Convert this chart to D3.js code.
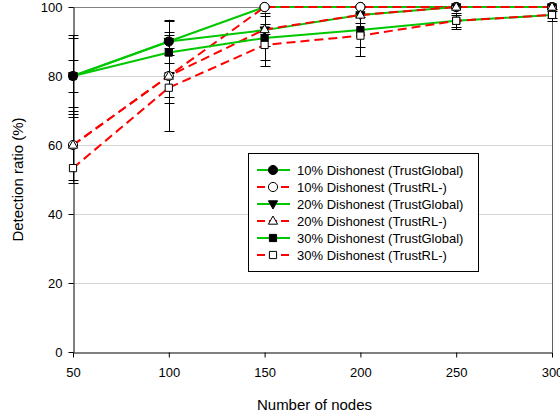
<!DOCTYPE html>
<html>
<head>
<meta charset="utf-8">
<script src="https://cdn.jsdelivr.net/npm/d3@7/dist/d3.min.js"></script>
<style>
  html, body { margin: 0; padding: 0; background: #fff; }
  svg { display: block; }
  text { font-family: Arial, "Liberation Sans", sans-serif; fill: #000; }
</style>
</head>
<body>
<svg id="chart" width="560" height="418"></svg>
<script>
// Number of nodes in the network
const nodes = [50, 100, 150, 200, 250, 300];

// Detection ratio (%) per configuration
const tg10 = [80, 90, 100, 100, 100, 100];
const rl10 = [60, 80, 100, 100, 100, 100];
const tg20 = [80, 90, 93.3, 97.7, 100, 100];
const rl20 = [60, 80, 93.5, 97.7, 100, 100];
const tg30 = [80, 86.8, 91.0, 93.3, 96, 97.7];
const rl30 = [53.3, 76.6, 89.0, 91.7, 96, 97.7];

// Symmetric error (± %)
const errTg10 = [4.6, 6.3, 0, 0, 0, 0];
const errRl10 = [10, 16, 0, 0, 0, 0];
const errTg20 = [11.1, 2, 1, 0.5, 0, 0];
const errRl20 = [10.9, 6, 4.9, 2.3, 0, 0];
const errTg30 = [11.9, 6, 6.3, 4.8, 1.7, 1];
const errRl30 = [0, 4.5, 6.1, 5.9, 2.4, 1.7];

const seriesNames = [
  "10% Dishonest (TrustGlobal)", "10% Dishonest (TrustRL-)",
  "20% Dishonest (TrustGlobal)", "20% Dishonest (TrustRL-)",
  "30% Dishonest (TrustGlobal)", "30% Dishonest (TrustRL-)"
];
const xTicks = [50, 100, 150, 200, 250, 300];
const yTicks = [0, 20, 40, 60, 80, 100];

const GREEN = "#00c800", RED = "#ff0000";
const series = [
  { name: seriesNames[0], values: tg10, err: errTg10, color: GREEN, dashed: false, shape: "circle", fill: "#000" },
  { name: seriesNames[1], values: rl10, err: errRl10, color: RED, dashed: true, shape: "circle", fill: "#fff" },
  { name: seriesNames[2], values: tg20, err: errTg20, color: GREEN, dashed: false, shape: "triDown", fill: "#000" },
  { name: seriesNames[3], values: rl20, err: errRl20, color: RED, dashed: true, shape: "triUp", fill: "#fff" },
  { name: seriesNames[4], values: tg30, err: errTg30, color: GREEN, dashed: false, shape: "square", fill: "#000" },
  { name: seriesNames[5], values: rl30, err: errRl30, color: RED, dashed: true, shape: "square", fill: "#fff" }
];

const svg = d3.select("#chart");
const plotL = 73, plotR = 552, plotT = 7, plotB = 352;

const x = d3.scaleLinear().domain([50, 300]).range([plotL, plotR]);
const y = d3.scaleLinear().domain([0, 100]).range([plotB, plotT]);

// Gridlines
svg.append("g").selectAll("line").data(yTicks.filter(v => v > 0 && v < 100)).join("line")
  .attr("x1", plotL).attr("x2", plotR)
  .attr("y1", d => y(d) + 0.5).attr("y2", d => y(d) + 0.5)
  .attr("stroke", "#d4d4d4").attr("stroke-width", 1);

// Frame top / right
svg.append("line").attr("x1", plotL).attr("x2", plotR + 0.5)
  .attr("y1", y(100) + 0.5).attr("y2", y(100) + 0.5)
  .attr("stroke", "#808080").attr("stroke-width", 1);
svg.append("line").attr("x1", plotR + 0.5).attr("x2", plotR + 0.5)
  .attr("y1", y(100)).attr("y2", plotB)
  .attr("stroke", "#606060").attr("stroke-width", 1);

// Axes
const xAxis = d3.axisBottom(x).tickValues(xTicks).tickSize(5).tickPadding(10).tickSizeOuter(0);
const yAxis = d3.axisLeft(y).tickValues(yTicks).tickSize(5).tickPadding(6).tickSizeOuter(0);

const gx = svg.append("g").attr("transform", `translate(0,${plotB + 0.5})`).call(xAxis);
const gy = svg.append("g").attr("transform", `translate(${plotL + 0.5},0)`).call(yAxis);
[gx, gy].forEach(g => {
  g.select(".domain").attr("stroke", "#000");
  g.selectAll(".tick line").attr("stroke", "#000");
  g.selectAll("text").attr("font-size", 13).attr("font-family", "Arial, 'Liberation Sans', sans-serif").attr("fill", "#000");
});

// Axis titles
svg.append("text").attr("x", (plotL + plotR) / 2 + 2).attr("y", 410)
  .attr("text-anchor", "middle").attr("font-size", 15).text("Number of nodes");
svg.append("text").attr("transform", `translate(23,${(plotT + plotB) / 2}) rotate(-90)`)
  .attr("text-anchor", "middle").attr("font-size", 15).text("Detection ratio (%)");

// Marker path generator
function markerPath(shape) {
  if (shape === "circle") return d3.symbol().type(d3.symbolCircle).size(66)();
  if (shape === "square") return d3.symbol().type(d3.symbolSquare).size(52)();
  if (shape === "triUp") return "M0,-5L4.6,3.2L-4.6,3.2Z";
  if (shape === "triDown") return "M0,5L4.6,-3.2L-4.6,-3.2Z";
}

// Error bars
const capW = 5;
const errG = svg.append("g");
series.forEach(s => {
  s.values.forEach((v, i) => {
    const e = s.err[i];
    if (!e) return;
    const cx = Math.round(x(nodes[i])) + 0.5;
    const y1 = y(Math.min(100, v + e)), y2 = y(v - e);
    errG.append("line").attr("x1", cx).attr("x2", cx).attr("y1", y1).attr("y2", y2)
      .attr("stroke", "#000").attr("stroke-width", 1);
    [y1, y2].forEach(yy => {
      errG.append("line").attr("x1", cx - capW).attr("x2", cx + capW)
        .attr("y1", Math.round(yy) + 0.5).attr("y2", Math.round(yy) + 0.5)
        .attr("stroke", "#000").attr("stroke-width", 1);
    });
  });
});

// Lines and markers
const line = d3.line().x((d, i) => x(nodes[i])).y(d => y(d));
series.forEach(s => {
  svg.append("path").datum(s.values).attr("d", line)
    .attr("fill", "none").attr("stroke", s.color).attr("stroke-width", 2)
    .attr("stroke-dasharray", s.dashed ? "9,5" : null);
});
series.forEach(s => {
  svg.append("g").selectAll("path").data(s.values).join("path")
    .attr("transform", (d, i) => `translate(${x(nodes[i])},${y(d)})`)
    .attr("d", markerPath(s.shape))
    .attr("fill", s.fill).attr("stroke", "#000").attr("stroke-width", 1);
});

// Legend
const lg = svg.append("g");
lg.append("rect").attr("x", 248.5).attr("y", 153.5).attr("width", 230).attr("height", 118)
  .attr("fill", "#fff").attr("stroke", "#000").attr("stroke-width", 1);
series.forEach((s, i) => {
  const cy = 170 + i * 17;
  lg.append("line").attr("x1", 257).attr("x2", 290).attr("y1", cy).attr("y2", cy)
    .attr("stroke", s.color).attr("stroke-width", 2)
    .attr("stroke-dasharray", s.dashed ? "8,4" : null);
  lg.append("path").attr("transform", `translate(273,${cy})`)
    .attr("d", markerPath(s.shape))
    .attr("fill", s.fill).attr("stroke", "#000").attr("stroke-width", 1);
  lg.append("text").attr("x", 297).attr("y", cy + 4.5).attr("font-size", 13).text(s.name);
});
</script>
</body>
</html>
